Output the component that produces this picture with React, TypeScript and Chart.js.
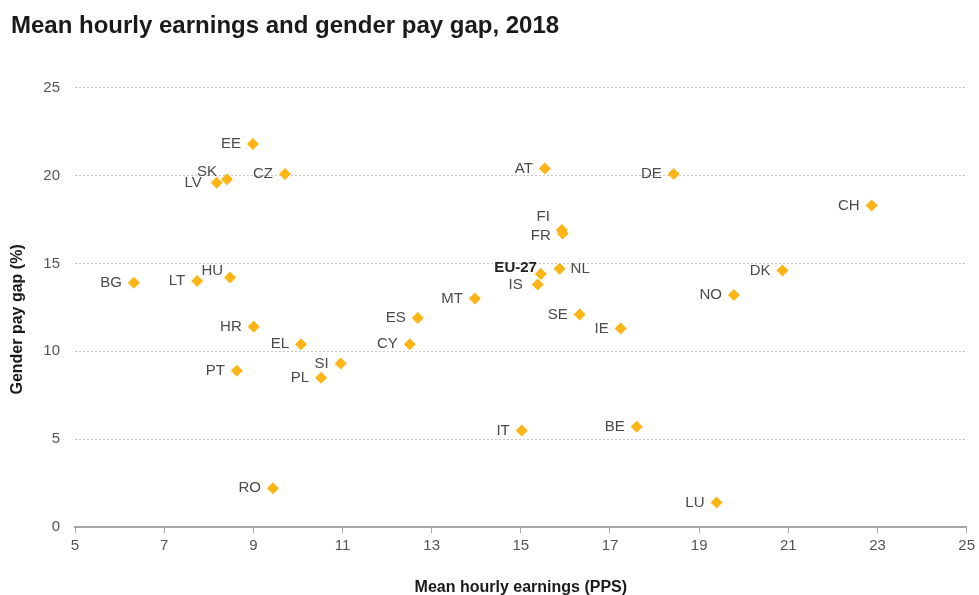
import React, { useEffect, useRef } from "react";
import { Chart, registerables } from "chart.js";

Chart.register(...registerables);

const countries = [
  "EE", "SK", "LV", "CZ", "AT", "DE", "CH", "FI", "FR", "NL", "EU-27", "IS",
  "DK", "NO", "MT", "ES", "SE", "IE", "BG", "LT", "HU", "HR", "EL", "CY",
  "SI", "PL", "PT", "IT", "BE", "RO", "LU",
];
const earnings = [
  8.99, 8.41, 8.18, 9.71, 15.54, 18.43, 22.87, 15.92, 15.94, 15.87, 15.45, 15.38,
  20.87, 19.78, 13.97, 12.69, 16.32, 17.24, 6.32, 7.74, 8.48, 9.01, 10.07, 12.51,
  10.96, 10.52, 8.63, 15.02, 17.6, 9.44, 19.39,
];
const payGap = [
  21.8, 19.8, 19.6, 20.1, 20.4, 20.1, 18.3, 16.9, 16.7, 14.7, 14.4, 13.8,
  14.6, 13.2, 13.0, 11.9, 12.1, 11.3, 13.9, 14.0, 14.2, 11.4, 10.4, 10.4,
  9.3, 8.5, 8.9, 5.5, 5.7, 2.2, 1.4,
];
const xTicks = [5, 7, 9, 11, 13, 15, 17, 19, 21, 23, 25];
const yTicks = [0, 5, 10, 15, 20, 25];

// label placement tweaks: [dx, dy, align]
const labelTweaks: Record<string, [number, number, string?]> = {
  SK: [2, -7],
  LV: [-3, 0],
  FI: [0, -13],
  FR: [0, 2],
  "EU-27": [8, -6],
  IS: [-3, 0],
  NL: [0, 0, "left"],
  HU: [5, -7],
};

const FONT = '"Liberation Sans", Arial, sans-serif';

const labelPlugin = {
  id: "pointLabels",
  afterDatasetsDraw(chart: any) {
    const ctx = chart.ctx;
    const meta = chart.getDatasetMeta(0);
    ctx.save();
    ctx.textBaseline = "middle";
    meta.data.forEach((pt: any, i: number) => {
      const name = countries[i];
      const tw = labelTweaks[name] || [0, 0];
      const left = tw[2] === "left";
      const bold = name === "EU-27";
      ctx.font = `${bold ? "bold " : ""}15px ${FONT}`;
      ctx.fillStyle = bold ? "#222222" : "#4a4a4a";
      ctx.textAlign = left ? "left" : "right";
      const x = left ? pt.x + 11 : pt.x - 12 + tw[0];
      ctx.fillText(name, x, pt.y + tw[1]);
    });
    ctx.restore();
  },
};

// y-axis title drawn slightly below the centre, as in the reference
const yTitlePlugin = {
  id: "yTitle",
  afterDraw(chart: any) {
    const ctx = chart.ctx;
    const area = chart.chartArea;
    ctx.save();
    ctx.translate(18, (area.top + area.bottom) / 2 + 12);
    ctx.rotate(-Math.PI / 2);
    ctx.font = `bold 16px ${FONT}`;
    ctx.fillStyle = "#1a1a1a";
    ctx.textAlign = "center";
    ctx.textBaseline = "middle";
    ctx.fillText("Gender pay gap (%)", 0, 0);
    ctx.restore();
  },
};

export default function App() {
  const ref = useRef<HTMLCanvasElement | null>(null);

  useEffect(() => {
    if (!ref.current) return;
    const chart = new Chart(ref.current, {
      type: "scatter",
      data: {
        datasets: [
          {
            label: "Gender pay gap",
            data: earnings.map((x, i) => ({ x, y: payGap[i] })),
            pointStyle: "rectRot",
            pointRadius: 6,
            pointHoverRadius: 6,
            backgroundColor: "#FDB415",
            borderColor: "#FDB415",
            borderWidth: 0,
          },
        ],
      },
      plugins: [labelPlugin, yTitlePlugin],
      options: {
        animation: false,
        responsive: false,
        maintainAspectRatio: false,
        layout: { padding: { left: 11, right: 12, top: 0, bottom: 0 } },
        plugins: {
          legend: { display: false },
          tooltip: { enabled: false },
          title: {
            display: true,
            text: "Mean hourly earnings and gender pay gap, 2018",
            align: "start",
            color: "#1a1a1a",
            font: { family: FONT, size: 24, weight: "bold" },
            padding: { top: 12, bottom: 47 },
          },
        },
        scales: {
          x: {
            type: "linear",
            min: 5,
            max: 25,
            afterBuildTicks: (scale: any) => {
              scale.ticks = xTicks.map((v) => ({ value: v }));
            },
            afterFit: (scale: any) => {
              scale.height = 68;
            },
            ticks: {
              color: "#555555",
              padding: 4,
              font: { family: FONT, size: 15 },
            },
            grid: {
              drawOnChartArea: false,
              drawTicks: true,
              tickLength: 6,
              color: "#a6a6a6",
              tickWidth: 1,
            },
            border: { display: true, color: "#a6a6a6", width: 2 },
            title: {
              display: true,
              text: "Mean hourly earnings (PPS)",
              color: "#1a1a1a",
              font: { family: FONT, size: 16, weight: "bold" },
              padding: { top: 0, bottom: -2 },
            },
          },
          y: {
            type: "linear",
            min: 0,
            max: 25,
            afterBuildTicks: (scale: any) => {
              scale.ticks = yTicks.map((v) => ({ value: v }));
            },
            afterFit: (scale: any) => {
              scale.width = 64;
            },
            ticks: {
              color: "#555555",
              padding: 15,
              font: { family: FONT, size: 15 },
            },
            grid: {
              drawTicks: false,
              color: (c: any) => (c.tick && c.tick.value === 0 ? "rgba(0,0,0,0)" : "#c8c8c8"),
              lineWidth: 1,
            },
            border: { display: false, dash: [2, 2] },
            title: { display: false },
          },
        },
      },
    } as any);
    return () => chart.destroy();
  }, []);

  return (
    <div style={{ position: "fixed", left: 0, top: 0, width: 979, height: 595, background: "#ffffff" }}>
      <canvas ref={ref} width={979} height={595} style={{ width: 979, height: 595, display: "block" }} />
    </div>
  );
}
